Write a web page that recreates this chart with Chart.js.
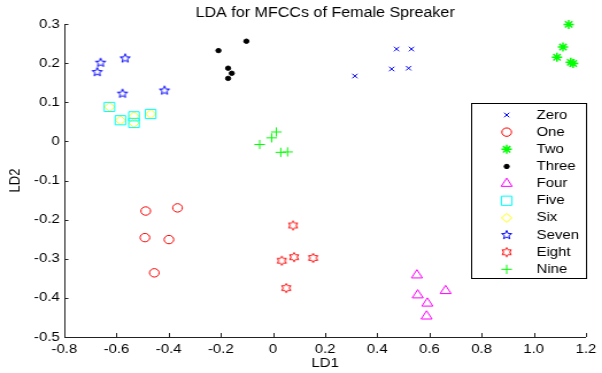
<!DOCTYPE html>
<html>
<head>
<meta charset="utf-8">
<script src="https://cdn.jsdelivr.net/npm/chart.js@4.4.1/dist/chart.umd.min.js"></script>
<style>
    html, body { margin: 0; padding: 0; background: #fff; overflow: hidden; }
    #contenedor { width: 602px; height: 373px; }
    /* la figura original esta estirada en horizontal */
    #graficoLDA { transform: scaleX(1.1489); transform-origin: 0 0; }
</style>
</head>
<body>
<div id="contenedor"><canvas id="graficoLDA" width="524" height="373"></canvas></div>
<script>

// ------------------------------------------------ DATOS ------------------------------------------------

    const clases = ["Zero", "One", "Two", "Three", "Four", "Five", "Six", "Seven", "Eight", "Nine"];

    const zeroLD1 = [0.474, 0.531, 0.455, 0.520, 0.314];
    const zeroLD2 = [0.236, 0.236, 0.185, 0.187, 0.167];

    const oneLD1 = [-0.488, -0.366, -0.491, -0.399, -0.455];
    const oneLD2 = [-0.178, -0.170, -0.246, -0.251, -0.336];

    const twoLD1 = [1.134, 1.112, 1.089, 1.142, 1.151];
    const twoLD2 = [0.299, 0.241, 0.215, 0.202, 0.199];

    const threeLD1 = [-0.209, -0.102, -0.172, -0.158, -0.172];
    const threeLD2 = [0.232, 0.256, 0.187, 0.174, 0.161];

    const fourLD1 = [0.552, 0.662, 0.555, 0.592, 0.589];
    const fourLD2 = [-0.342, -0.382, -0.393, -0.414, -0.447];

    const fiveLD1 = [-0.627, -0.585, -0.533, -0.533, -0.469];
    const fiveLD2 = [0.088, 0.054, 0.064, 0.047, 0.070];

    const sixLD1 = [-0.627, -0.585, -0.533, -0.533, -0.469];
    const sixLD2 = [0.088, 0.054, 0.064, 0.047, 0.070];

    const sevenLD1 = [-0.674, -0.661, -0.567, -0.577, -0.416];
    const sevenLD2 = [0.177, 0.201, 0.212, 0.122, 0.130];

    const eightLD1 = [0.077, 0.034, 0.081, 0.154, 0.051];
    const eightLD2 = [-0.215, -0.305, -0.296, -0.298, -0.375];

    const nineLD1 = [-0.051, -0.005, 0.013, 0.030, 0.056];
    const nineLD2 = [-0.008, 0.009, 0.024, -0.028, -0.027];

    const ticksLD1 = [-0.8, 1.2, 0.2];   // min, max, paso
    const ticksLD2 = [-0.5, 0.3, 0.1];

    const fuente = "'Liberation Sans', Arial, Helvetica, sans-serif";

    function puntos(xs, ys) {
        return xs.map((x, i) => ({ x: x, y: ys[i] }));
    }

// ------------------------------------------------ MARCADORES ------------------------------------------------

    // estrella de n puntas dibujada solo con borde (pentagrama / hexagrama de matlab)
    function hacerEstrella(puntas, rExt, rInt, color) {
        const lado = Math.ceil(rExt * 2 + 4);
        const c = document.createElement('canvas');
        c.width = lado;
        c.height = lado;
        const ctx = c.getContext('2d');
        ctx.strokeStyle = color;
        ctx.lineWidth = 1;
        ctx.beginPath();
        for (let i = 0; i < puntas * 2; i++) {
            const r = i % 2 === 0 ? rExt : rInt;
            const ang = -Math.PI / 2 + i * Math.PI / puntas;
            const px = lado / 2 + Math.cos(ang) * r;
            const py = lado / 2 + Math.sin(ang) * r;
            if (i === 0) ctx.moveTo(px, py); else ctx.lineTo(px, py);
        }
        ctx.closePath();
        ctx.stroke();
        return c;
    }

    const pentagrama = hacerEstrella(5, 4.6, 2.0, '#0000ff');
    const hexagrama = hacerEstrella(6, 4.6, 2.65, '#ff0000');

// ------------------------------------------------ DATASETS ------------------------------------------------

    const datosLDA = {
        datasets: [
            { label: clases[0], data: puntos(zeroLD1, zeroLD2), pointStyle: 'crossRot', pointRadius: 3.2, borderColor: '#0000ff', backgroundColor: 'transparent', borderWidth: 1 },
            { label: clases[1], data: puntos(oneLD1, oneLD2), pointStyle: 'circle', pointRadius: 4.2, borderColor: '#ff0000', backgroundColor: 'transparent', borderWidth: 1 },
            { label: clases[2], data: puntos(twoLD1, twoLD2), pointStyle: 'star', pointRadius: 4.5, borderColor: '#00ff00', backgroundColor: 'transparent', borderWidth: 1.5 },
            { label: clases[3], data: puntos(threeLD1, threeLD2), pointStyle: 'circle', pointRadius: 2.2, borderColor: '#000000', backgroundColor: '#000000', borderWidth: 1 },
            { label: clases[4], data: puntos(fourLD1, fourLD2), pointStyle: 'triangle', pointRadius: 5.5, borderColor: '#ff00ff', backgroundColor: 'transparent', borderWidth: 1 },
            { label: clases[5], data: puntos(fiveLD1, fiveLD2), pointStyle: 'rect', pointRadius: 6.5, borderColor: '#00ffff', backgroundColor: 'transparent', borderWidth: 1 },
            { label: clases[6], data: puntos(sixLD1, sixLD2), pointStyle: 'rectRot', pointRadius: 4.5, borderColor: '#ffff00', backgroundColor: 'transparent', borderWidth: 1 },
            { label: clases[7], data: puntos(sevenLD1, sevenLD2), pointStyle: pentagrama, pointRadius: 4.6, borderColor: '#0000ff', backgroundColor: 'transparent', borderWidth: 1 },
            { label: clases[8], data: puntos(eightLD1, eightLD2), pointStyle: hexagrama, pointRadius: 4.6, borderColor: '#ff0000', backgroundColor: 'transparent', borderWidth: 1 },
            { label: clases[9], data: puntos(nineLD1, nineLD2), pointStyle: 'cross', pointRadius: 4.6, borderColor: '#00ff00', backgroundColor: 'transparent', borderWidth: 1 }
        ]
    };

// ------------------------------------------------ PLUGINS ------------------------------------------------

    // marcas de los ejes hacia dentro, como en matlab
    const marcasInternas = {
        id: 'marcasInternas',
        afterDraw(chart) {
            const { ctx, chartArea, scales } = chart;
            ctx.save();
            ctx.strokeStyle = '#222';
            ctx.lineWidth = 1;
            ctx.beginPath();
            scales.x.ticks.forEach(t => {
                const px = Math.round(scales.x.getPixelForValue(t.value)) + 0.5;
                ctx.moveTo(px, chartArea.bottom);
                ctx.lineTo(px, chartArea.bottom - 4);
            });
            scales.y.ticks.forEach(t => {
                const py = Math.round(scales.y.getPixelForValue(t.value)) + 0.5;
                ctx.moveTo(chartArea.left, py);
                ctx.lineTo(chartArea.left + 3.5, py);
            });
            ctx.stroke();
            ctx.restore();
        }
    };

    const titulos = {
        id: 'titulos',
        afterDraw(chart) {
            const { ctx, chartArea } = chart;
            const centroX = (chartArea.left + chartArea.right) / 2;
            ctx.save();
            ctx.fillStyle = '#000';
            ctx.textAlign = 'center';
            ctx.textBaseline = 'middle';
            ctx.font = '14px ' + fuente;
            ctx.fillText('LDA for MFCCs of Female Spreaker', centroX, 13);
            ctx.font = '13px ' + fuente;
            ctx.fillText('LD1', centroX, 363);
            ctx.translate(13, (chartArea.top + chartArea.bottom) / 2);
            ctx.rotate(-Math.PI / 2);
            ctx.fillText('LD2', 0, 0);
            ctx.restore();
        }
    };

    const leyendaInterna = {
        id: 'leyendaInterna',
        afterDraw(chart) {
            const ctx = chart.ctx;
            const caja = { x: 410.5, y: 103.5, w: 100, h: 175 };
            ctx.save();
            ctx.fillStyle = '#fff';
            ctx.fillRect(caja.x, caja.y, caja.w, caja.h);
            ctx.strokeStyle = '#000';
            ctx.lineWidth = 1;
            ctx.strokeRect(caja.x, caja.y, caja.w, caja.h);
            ctx.font = '13px ' + fuente;
            ctx.textBaseline = 'middle';
            ctx.textAlign = 'left';
            chart.data.datasets.forEach((ds, i) => {
                const y = 115 + i * 17.15;
                ctx.save();
                ctx.strokeStyle = ds.borderColor;
                ctx.fillStyle = ds.backgroundColor;
                ctx.lineWidth = ds.borderWidth;
                Chart.helpers.drawPoint(ctx, {
                    pointStyle: ds.pointStyle,
                    radius: ds.pointRadius,
                    borderWidth: ds.borderWidth,
                    rotation: 0
                }, 441, y);
                ctx.restore();
                ctx.fillStyle = '#000';
                ctx.fillText(ds.label, 467, y);
            });
            ctx.restore();
        }
    };

// ------------------------------------------------ GRAFICO ------------------------------------------------

    datosLDA.datasets.forEach(ds => { ds.clip = false; });

    const configLDA = {
        type: 'scatter',
        data: datosLDA,
        options: {
            responsive: false,
            animation: false,
            devicePixelRatio: 1,
            layout: { padding: { top: 24, right: 11, left: 0, bottom: 0 } },
            plugins: {
                legend: { display: false },
                tooltip: { enabled: false }
            },
            scales: {
                x: {
                    type: 'linear',
                    min: ticksLD1[0],
                    max: ticksLD1[1],
                    afterFit: s => { s.height = 36; },
                    grid: { display: false, drawTicks: false },
                    border: { display: true, color: '#222', width: 1 },
                    ticks: {
                        stepSize: ticksLD1[2],
                        color: '#000',
                        padding: 5,
                        maxRotation: 0,
                        font: { size: 13, family: fuente }
                    }
                },
                y: {
                    type: 'linear',
                    min: ticksLD2[0],
                    max: ticksLD2[1],
                    afterFit: s => { s.width = 56; },
                    grid: { display: false, drawTicks: false },
                    border: { display: true, color: '#222', width: 1 },
                    ticks: {
                        stepSize: ticksLD2[2],
                        color: '#000',
                        padding: 4,
                        font: { size: 13, family: fuente }
                    }
                }
            }
        },
        plugins: [marcasInternas, titulos, leyendaInterna]
    };

    var graficoLDA = new Chart(
        document.getElementById('graficoLDA'),
        configLDA
    );

</script>
</body>
</html>
